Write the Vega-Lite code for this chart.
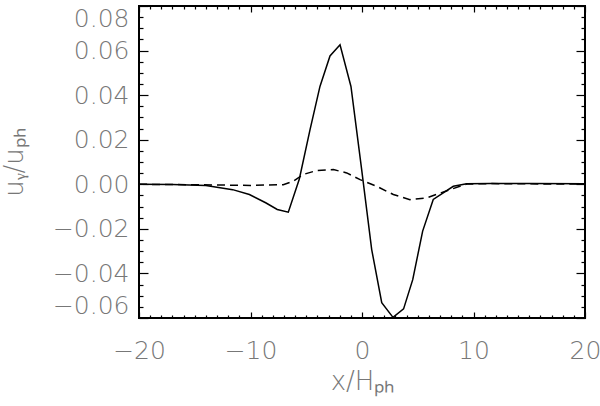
{
  "$schema": "https://vega.github.io/schema/vega-lite/v6.json",
  "autosize": {"type": "none"},
  "width": 446,
  "height": 312,
  "padding": {"left": 139, "top": 6, "right": 15, "bottom": 88},
  "config": {
    "view": {"stroke": "#000", "strokeWidth": 2},
    "axis": {
      "domain": false,
      "grid": false,
      "tickColor": "#000",
      "tickWidth": 1.2,
      "labelFont": "DejaVu Sans",
      "labelFontWeight": 200,
      "labelColor": "#777",
      "labelFontSize": 25,
      "titleFont": "DejaVu Sans",
      "titleFontWeight": 200,
      "titleColor": "#777",
      "titleFontSize": 26
    }
  },
  "datasets": {
    "solid": [
      {"x": -20, "y": 0.0}, {"x": -17, "y": -0.0001}, {"x": -14.0, "y": -0.0006}, {"x": -11.6, "y": -0.0024},
      {"x": -10.1, "y": -0.0046}, {"x": -8.64, "y": -0.0083}, {"x": -7.6, "y": -0.0113}, {"x": -6.61, "y": -0.0125},
      {"x": -5.62, "y": 0.0024}, {"x": -4.66, "y": 0.0245}, {"x": -3.77, "y": 0.0439}, {"x": -2.87, "y": 0.0576},
      {"x": -1.97, "y": 0.0626}, {"x": -0.99, "y": 0.0439}, {"x": -0.03, "y": 0.0066}, {"x": 0.87, "y": -0.0293},
      {"x": 1.77, "y": -0.0531}, {"x": 2.78, "y": -0.0597}, {"x": 3.73, "y": -0.0559}, {"x": 4.55, "y": -0.0428},
      {"x": 5.44, "y": -0.021}, {"x": 6.39, "y": -0.0068}, {"x": 8.19, "y": -0.0009}, {"x": 9.39, "y": 0.0002},
      {"x": 11.5, "y": 0.0004}, {"x": 15, "y": 0.0003}, {"x": 20, "y": 0.0002}
    ],
    "dashed": [
      {"x": -20, "y": 0.0}, {"x": -15, "y": -0.0002}, {"x": -10, "y": -0.0005}, {"x": -7.06, "y": -0.0002},
      {"x": -6.16, "y": 0.0014}, {"x": -5.26, "y": 0.0044}, {"x": -4.06, "y": 0.0062}, {"x": -2.57, "y": 0.0066},
      {"x": -1.37, "y": 0.0051}, {"x": -0.17, "y": 0.0021}, {"x": 1.32, "y": -0.0009}, {"x": 2.81, "y": -0.0046},
      {"x": 4.3, "y": -0.0069}, {"x": 5.8, "y": -0.0061}, {"x": 7.89, "y": -0.0024}, {"x": 9.39, "y": 0.0001},
      {"x": 11.5, "y": 0.0003}, {"x": 15, "y": 0.0002}, {"x": 20, "y": 0.0001}
    ]
  },
  "layer": [
    {
      "data": {"name": "solid"},
      "mark": {"type": "line", "color": "#000", "strokeWidth": 1.5, "clip": true},
      "encoding": {
        "x": {"field": "x", "type": "quantitative",
          "scale": {"domain": [-20, 20], "nice": false, "zero": false},
          "axis": {
            "orient": "bottom",
            "title": "x/Hₚₕ",
            "titleY": 50,
            "values": [-20,-19,-18,-17,-16,-15,-14,-13,-12,-11,-10,-9,-8,-7,-6,-5,-4,-3,-2,-1,0,1,2,3,4,5,6,7,8,9,10,11,12,13,14,15,16,17,18,19,20],
            "tickSize": {"condition": {"test": "datum.value % 10 === 0", "value": -6}, "value": -3},
            "labelExpr": "datum.value % 10 === 0 ? datum.label : ''",
            "labelPadding": 26,
            "labelFlush": false
          }
        },
        "y": {"field": "y", "type": "quantitative",
          "scale": {"domain": [-0.06, 0.08], "nice": false, "zero": false},
          "axis": {
            "orient": "left",
            "title": "uᵧ/uₚₕ",
            "titleX": -112,
            "values": [-0.06,-0.055,-0.05,-0.045,-0.04,-0.035,-0.03,-0.025,-0.02,-0.015,-0.01,-0.005,0,0.005,0.01,0.015,0.02,0.025,0.03,0.035,0.04,0.045,0.05,0.055,0.06,0.065,0.07,0.075,0.08],
            "format": ".2f",
            "tickSize": {"condition": {"test": "abs(datum.value/0.02 - round(datum.value/0.02)) < 0.001", "value": -9}, "value": -4},
            "labelExpr": "abs(datum.value/0.02 - round(datum.value/0.02)) < 0.001 ? datum.label : ''",
            "labelPadding": 19,
            "labelFlush": 12
          }
        }
      }
    },
    {
      "data": {"name": "dashed"},
      "mark": {"type": "line", "color": "#000", "strokeWidth": 1.5, "strokeDash": [8, 5], "clip": true},
      "encoding": {
        "x": {"field": "x", "type": "quantitative",
          "axis": {
            "orient": "top",
            "title": null,
            "values": [-20,-19,-18,-17,-16,-15,-14,-13,-12,-11,-10,-9,-8,-7,-6,-5,-4,-3,-2,-1,0,1,2,3,4,5,6,7,8,9,10,11,12,13,14,15,16,17,18,19,20],
            "tickSize": {"condition": {"test": "datum.value % 10 === 0", "value": -6}, "value": -3},
            "labels": false
          }
        },
        "y": {"field": "y", "type": "quantitative",
          "axis": {
            "orient": "right",
            "title": null,
            "values": [-0.06,-0.055,-0.05,-0.045,-0.04,-0.035,-0.03,-0.025,-0.02,-0.015,-0.01,-0.005,0,0.005,0.01,0.015,0.02,0.025,0.03,0.035,0.04,0.045,0.05,0.055,0.06,0.065,0.07,0.075,0.08],
            "tickSize": {"condition": {"test": "abs(datum.value/0.02 - round(datum.value/0.02)) < 0.001", "value": -9}, "value": -4},
            "labels": false
          }
        }
      }
    }
  ]
}
